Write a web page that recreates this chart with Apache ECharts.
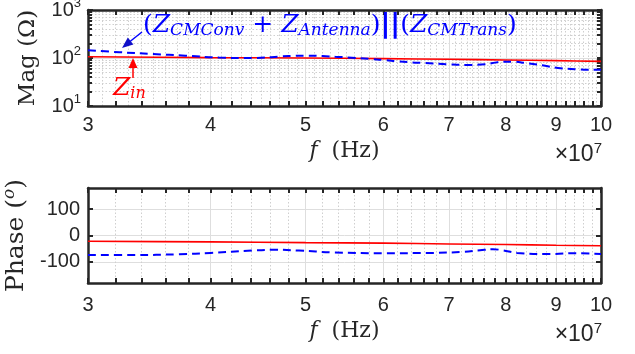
<!DOCTYPE html>
<html><head><meta charset="utf-8">
<script src="https://cdn.jsdelivr.net/npm/echarts@6/dist/echarts.min.js"></script>
<style>html,body{margin:0;padding:0;background:#fff}#c{width:635px;height:354px}</style>
</head><body><div id="c"></div>
<script>
// ---------- data (frequencies in Hz) ----------
const zinFreq   = [3e7, 4e7, 5e7, 6e7, 7e7, 8e7, 9e7, 1e8];
const zinMag    = [106, 102, 100, 97, 94, 91, 88, 85];
const zinPhase  = [-22, -24, -27, -29, -32, -34, -37, -39];

const parMagFreq = [3.00e7,3.23e7,3.49e7,3.77e7,4.08e7,4.42e7,4.73e7,4.88e7,5.03e7,5.20e7,5.36e7,5.52e7,5.84e7,6.02e7,6.21e7,6.42e7,6.59e7,6.98e7,7.32e7,7.62e7,7.85e7,8.12e7,8.37e7,8.71e7,9.04e7,9.47e7,9.93e7,1.00e8];
const parMag     = [145,132,121,112,102,100,108,111,112,110,106,103,95,91,85,81,79,74,71.5,74,82,84,79,70.5,62,58,57,57];

const parPhFreq  = [3.00e7,3.33e7,3.72e7,4.00e7,4.41e7,4.65e7,4.92e7,5.33e7,6.00e7,6.74e7,7.23e7,7.53e7,7.76e7,7.94e7,8.21e7,8.87e7,9.45e7,1.00e8];
const parPhase   = [-74,-74,-71,-66,-57,-54,-57,-64,-67,-66,-62,-56,-52,-56,-66,-70,-67,-70];

// ---------- tick values ----------
const xMajor      = [3,4,5,6,7,8,9,10];            // x 1e7 Hz
const xMinorTicks = [3.2,3.4,3.6,3.8,4.2,4.4,4.6,4.8,5.2,5.4,5.6,5.8,6.2,6.4,6.6,6.8,7.2,7.4,7.6,7.8,8.2,8.4,8.6,8.8,9.2,9.4,9.6,9.8];
const xMinorGrid  = [3.1,3.2,3.3,3.4,3.5,3.6,3.7,3.8,3.9,4.1,4.2,4.3,4.4,4.5,4.6,4.7,4.8,4.9,5.1,5.2,5.3,5.4,5.5,5.6,5.7,5.8,5.9,6.1,6.2,6.3,6.4,6.5,6.6,6.7,6.8,6.9,7.1,7.2,7.3,7.4,7.5,7.6,7.7,7.8,7.9,8.1,8.2,8.3,8.4,8.5,8.6,8.7,8.8,8.9,9.1,9.2,9.3,9.4,9.5,9.6,9.7,9.8,9.9];
const yMagMajor   = [10, 100, 1000];
const yMagMinor   = [20,30,40,50,60,70,80,90,200,300,400,500,600,700,800,900];
const yPhaseTicks = [-100, 0, 100];
const phaseRange  = [-180, 180];

// ---------- helpers ----------
const L = v => Math.log10(v);
const X0 = L(3e7), X1 = L(1e8);
const fx = a => a.map(v => L(v * 1e7));
const pairsLog = (f, v) => f.map((x, i) => [L(x), L(v[i])]);
const pairsLin = (f, v) => f.map((x, i) => [L(x), v[i]]);

const DARK = '#262626';
const TICKFONT = 'Liberation Sans';
const SERIF = 'DejaVu Serif';
const lineAx = { show: true, onZero: false, lineStyle: { color: DARK, width: 2.5 } };
const noLine = { show: false, onZero: false };
const gridMajor = { show: true, lineStyle: { color: '#dedede', width: 1 } };
const gridMinor = { show: true, lineStyle: { color: '#cfcfcf', width: 1, type: [1.5, 2] } };
const tick = (vals, len) => ({ show: true, inside: true, length: len || 5, customValues: vals, lineStyle: { color: DARK, width: 2 } });
const hiddenTick = vals => ({ show: false, customValues: vals });

function xName(gap) {
  return {
    name: '{i|f}{t|  (Hz)}', nameLocation: 'middle', nameGap: gap,
    nameTextStyle: { rich: {
      i: { fontFamily: SERIF, fontStyle: 'italic', fontSize: 22, color: DARK },
      t: { fontFamily: SERIF, fontSize: 22, color: DARK } } }
  };
}
const xLabel = {
  show: true, customValues: fx(xMajor), margin: 9, fontFamily: TICKFONT, fontSize: 20, color: DARK,
  formatter: v => String(Math.round(Math.pow(10, v) / 1e7))
};

function xBase(g, pos) { return { type: 'value', gridIndex: g, min: X0, max: X1, position: pos, splitNumber: 5 }; }

const xAxes = [
  // top panel
  Object.assign(xBase(0, 'bottom'), { axisLine: lineAx, axisTick: tick(fx(xMajor)), axisLabel: xLabel, splitLine: gridMajor }, xName(34)),
  Object.assign(xBase(0, 'bottom'), { axisLine: noLine, axisTick: hiddenTick(fx(xMinorGrid)), axisLabel: { show: false }, splitLine: gridMinor }),
  Object.assign(xBase(0, 'bottom'), { axisLine: noLine, axisTick: tick(fx(xMinorTicks)), axisLabel: { show: false }, splitLine: { show: false } }),
  Object.assign(xBase(0, 'top'),    { axisLine: lineAx, axisTick: tick(fx(xMajor.concat(xMinorTicks))), axisLabel: { show: false }, splitLine: { show: false } }),
  // bottom panel
  Object.assign(xBase(1, 'bottom'), { axisLine: lineAx, axisTick: tick(fx(xMajor)), axisLabel: Object.assign({}, xLabel, { margin: 12 }), splitLine: gridMajor }, xName(37)),
  Object.assign(xBase(1, 'bottom'), { axisLine: noLine, axisTick: tick(fx(xMinorTicks)), axisLabel: { show: false }, splitLine: gridMinor }),
  Object.assign(xBase(1, 'top'),    { axisLine: lineAx, axisTick: tick(fx(xMajor.concat(xMinorTicks))), axisLabel: { show: false }, splitLine: { show: false } })
];

const magMajorL = yMagMajor.map(L), magMinorL = yMagMinor.map(L);
const yAxes = [
  { type: 'value', gridIndex: 0, min: L(10), max: L(1000), position: 'left',
    axisLine: lineAx, axisTick: tick(magMajorL), splitLine: gridMajor,
    axisLabel: { show: true, customValues: magMajorL, margin: 7, color: DARK,
      formatter: v => '{b|10}{s|' + Math.round(v) + '}',
      rich: { b: { fontFamily: TICKFONT, fontSize: 20, color: DARK },
              s: { fontFamily: TICKFONT, fontSize: 13, color: DARK, padding: [0, 0, 13, 0] } } },
    name: 'Mag (Ω)', nameLocation: 'middle', nameRotate: 90, nameGap: 48,
    nameTextStyle: { fontFamily: SERIF, fontSize: 23, color: DARK } },
  { type: 'value', gridIndex: 0, min: L(10), max: L(1000), position: 'left',
    axisLine: noLine, axisTick: tick(magMinorL, 4), axisLabel: { show: false }, splitLine: gridMinor },
  { type: 'value', gridIndex: 0, min: L(10), max: L(1000), position: 'right',
    axisLine: lineAx, axisTick: tick(magMajorL.concat(magMinorL), 4), axisLabel: { show: false }, splitLine: { show: false } },
  { type: 'value', gridIndex: 1, min: phaseRange[0], max: phaseRange[1], position: 'left',
    axisLine: lineAx, axisTick: tick(yPhaseTicks), splitLine: gridMajor,
    axisLabel: { show: true, customValues: yPhaseTicks, margin: 8, fontFamily: TICKFONT, fontSize: 20, color: DARK,
      formatter: v => String(v).replace('−', '-') },
    name: '{t|Phase (}{s|o}{t|)}', nameLocation: 'middle', nameRotate: 90, nameGap: 56,
    nameTextStyle: { rich: {
      t: { fontFamily: SERIF, fontSize: 25, color: DARK },
      s: { fontFamily: SERIF, fontStyle: 'italic', fontSize: 17, color: DARK, padding: [0, 0, 14, 0] } } } },
  { type: 'value', gridIndex: 1, min: phaseRange[0], max: phaseRange[1], position: 'right',
    axisLine: lineAx, axisTick: tick(yPhaseTicks), axisLabel: { show: false }, splitLine: { show: false } }
];

const RED = '#ff0000', BLUE = '#0000ff';
const series = [
  { type: 'line', xAxisIndex: 0, yAxisIndex: 0, data: pairsLog(zinFreq, zinMag), showSymbol: false, smooth: 0.3,
    lineStyle: { color: RED, width: 1.6 }, z: 3 },
  { type: 'line', xAxisIndex: 0, yAxisIndex: 0, data: pairsLog(parMagFreq, parMag), showSymbol: false, smooth: 0.4,
    lineStyle: { color: BLUE, width: 2, type: [8, 5] }, z: 4 },
  { type: 'line', xAxisIndex: 4, yAxisIndex: 3, data: pairsLin(zinFreq, zinPhase), showSymbol: false, smooth: 0.3,
    lineStyle: { color: RED, width: 1.6 }, z: 3 },
  { type: 'line', xAxisIndex: 4, yAxisIndex: 3, data: pairsLin(parPhFreq, parPhase), showSymbol: false, smooth: 0.4,
    lineStyle: { color: BLUE, width: 2, type: [8, 5] }, z: 4 }
];

const MATH = 'DejaVu Serif';
const sci = y => ({ type: 'text', x: 602, y: y, z: 10, style: {
  text: '{b|×10}{s|7}', align: 'right', verticalAlign: 'top',
  rich: { b: { fontSize: 23, fontFamily: 'Liberation Sans', fill: DARK },
          s: { fontSize: 15, fontFamily: 'Liberation Sans', fill: DARK, padding: [0, 0, 13, 0] } } } });

const graphic = [
  sci(141), sci(321),
  { type: 'text', x: 143, y: 25, z: 20, style: {
      text: '{p|(}{m|Z}{s|CMConv}{p| + }{m|Z}{s|Antenna}{p|)}{b|||}{p|(}{m|Z}{s|CMTrans}{p|)}',
      align: 'left', verticalAlign: 'middle',
      rich: {
        p: { fontSize: 25, fontFamily: MATH, fill: BLUE },
        m: { fontSize: 25, fontFamily: MATH, fontStyle: 'italic', fill: BLUE },
        s: { fontSize: 17, fontFamily: MATH, fontStyle: 'italic', fill: BLUE, padding: [12, 0, 0, 0] },
        b: { fontSize: 27, fontFamily: 'DejaVu Sans', fontWeight: 'bold', fill: BLUE }
      } } },
  { type: 'text', x: 113, y: 88, z: 20, style: {
      text: '{m|Z}{s|in}', align: 'left', verticalAlign: 'middle',
      rich: {
        m: { fontSize: 25, fontFamily: MATH, fontStyle: 'italic', fill: RED },
        s: { fontSize: 16, fontFamily: MATH, fontStyle: 'italic', fill: RED, padding: [12, 0, 0, 0] }
      } } },
  // blue arrow
  { type: 'line', z: 20, shape: { x1: 142, y1: 32, x2: 130, y2: 41.5 }, style: { stroke: BLUE, lineWidth: 1.5 } },
  { type: 'polygon', z: 20, shape: { points: [[122, 48], [133.4, 44.6], [127.8, 37.6]] }, style: { fill: '#1010c8' } },
  // red arrow
  { type: 'line', z: 20, shape: { x1: 133, y1: 78, x2: 133, y2: 66 }, style: { stroke: RED, lineWidth: 1.5 } },
  { type: 'polygon', z: 20, shape: { points: [[133, 58], [128.5, 68], [137.5, 68]] }, style: { fill: RED } }
];

const chart = echarts.init(document.getElementById('c'), null, { renderer: 'canvas' });
chart.setOption({
  animation: false,
  backgroundColor: '#ffffff',
  grid: [
    { left: 88, top: 10, width: 513, height: 96, outerBoundsMode: 'none', containLabel: false },
    { left: 88, top: 188, width: 513, height: 95, outerBoundsMode: 'none', containLabel: false }
  ],
  xAxis: xAxes,
  yAxis: yAxes,
  series: series,
  graphic: graphic
});
</script>
</body></html>
